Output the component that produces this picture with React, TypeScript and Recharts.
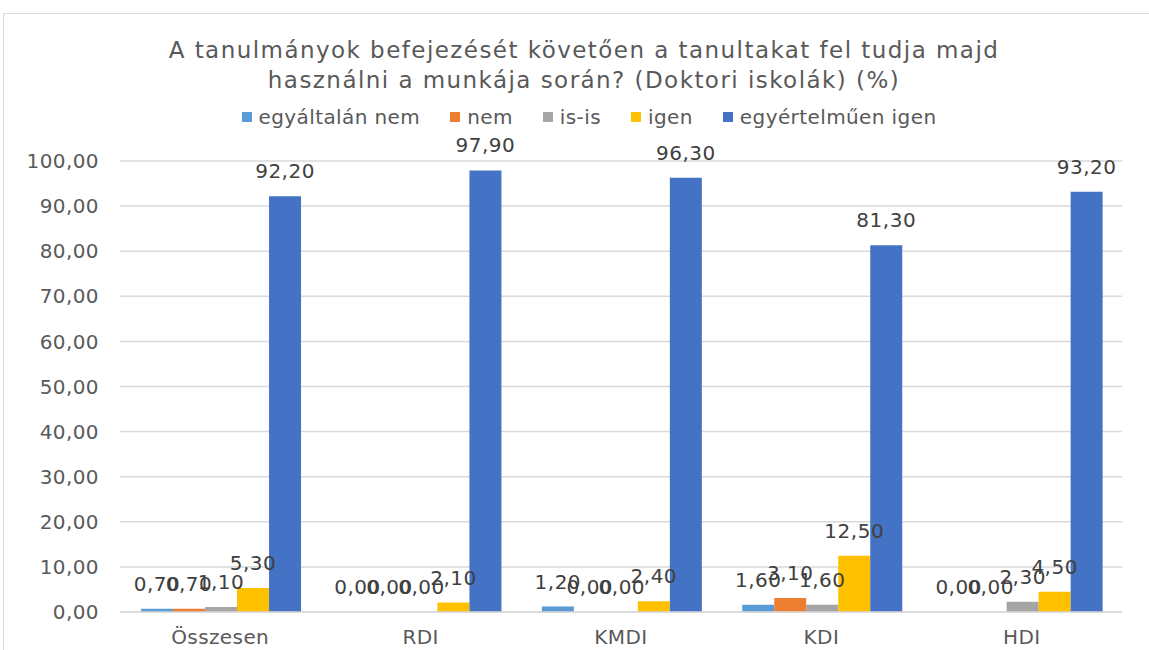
import { BarChart, Bar, XAxis, YAxis, CartesianGrid, LabelList } from "recharts";

const categories = ["Összesen", "RDI", "KMDI", "KDI", "HDI"];
const egyaltalanNem = [0.7, 0, 1.2, 1.6, 0];
const nem = [0.7, 0, 0, 3.1, 0];
const isIs = [1.1, 0, 0, 1.6, 2.3];
const igen = [5.3, 2.1, 2.4, 12.5, 4.5];
const egyertelmuenIgen = [92.2, 97.9, 96.3, 81.3, 93.2];
const yTicks = [0, 10, 20, 30, 40, 50, 60, 70, 80, 90, 100];

const series = [
  { key: "a", name: "egyáltalán nem", values: egyaltalanNem, color: "#5B9BD5" },
  { key: "b", name: "nem", values: nem, color: "#ED7D31" },
  { key: "c", name: "is-is", values: isIs, color: "#A5A5A5" },
  { key: "d", name: "igen", values: igen, color: "#FFC000" },
  { key: "e", name: "egyértelműen igen", values: egyertelmuenIgen, color: "#4472C4" },
];

const data = categories.map((name, i) => {
  const row: Record<string, string | number> = { name };
  series.forEach((s) => (row[s.key] = s.values[i]));
  return row;
});

const fmt = (v: number) => v.toFixed(2).replace(".", ",");
const FONT = "'DejaVu Sans', Verdana, sans-serif";
const textStyle = { fill: "#595959", fontSize: 20, fontFamily: FONT, letterSpacing: 0.4 };

// nulla értékű oszlopoknál is kell a címke, ezért egy láthatatlan minimális magasság
const minSize = (v: number) => (v === 0 ? 0.01 : 0);

export default function App() {
  return (
    <div style={{ position: "absolute", left: 0, top: 0, width: 1149, height: 650, overflow: "hidden", background: "#fff", fontFamily: FONT }}>
      <div style={{ position: "absolute", left: 3, top: 13, width: 1200, height: 700, border: "1px solid #d9d9d9" }} />
      <div style={{ position: "absolute", left: 0, top: 35, width: 1168, textAlign: "center", fontSize: 23, letterSpacing: 1.45, lineHeight: "30px", color: "#595959" }}>
        A tanulmányok befejezését követően a tanultakat fel tudja majd
        <br />
        használni a munkája során? (Doktori iskolák) (%)
      </div>
      {/* jelmagyarázat */}
      <div style={{ position: "absolute", left: 0, top: 104, width: 1178, display: "flex", justifyContent: "center", gap: 30, fontSize: 20, letterSpacing: 0.4, color: "#595959", lineHeight: "26px" }}>
        {series.map((s) => (
          <div key={s.key} style={{ display: "flex", alignItems: "center", gap: 7 }}>
            <span style={{ width: 10, height: 10, background: s.color, display: "inline-block" }} />
            <span>{s.name}</span>
          </div>
        ))}
      </div>
      <BarChart
        width={1149}
        height={650}
        data={data}
        margin={{ top: 161, right: 27, bottom: 0, left: 0 }}
        barCategoryGap="10.5%"
        barGap={0}
        style={{ position: "absolute", left: 0, top: 0 }}
      >
        <CartesianGrid vertical={false} stroke="#d9d9d9" strokeWidth={1.5} />
        <XAxis
          dataKey="name"
          height={38}
          tickLine={false}
          axisLine={{ stroke: "#d9d9d9", strokeWidth: 1.5 }}
          tick={textStyle}
          tickMargin={12}
        />
        <YAxis
          width={120}
          domain={[0, 100]}
          ticks={yTicks}
          tickFormatter={fmt}
          axisLine={false}
          tickLine={false}
          tickSize={0}
          tickMargin={21}
          tick={textStyle}
        />
        {series.map((s) => (
          <Bar key={s.key} dataKey={s.key} name={s.name} fill={s.color} minPointSize={minSize} isAnimationActive={false}>
            <LabelList
              dataKey={s.key}
              position="top"
              offset={18}
              formatter={(v: number) => fmt(v)}
              style={{ fill: "#404040", fontSize: 20, fontFamily: FONT, letterSpacing: 0.5 }}
            />
          </Bar>
        ))}
      </BarChart>
    </div>
  );
}
